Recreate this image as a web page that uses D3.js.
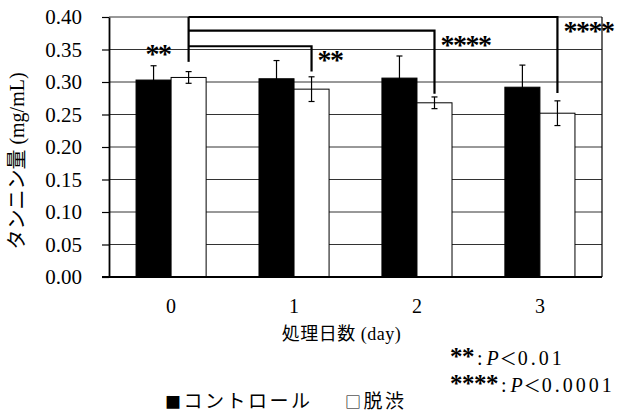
<!DOCTYPE html>
<html lang="ja">
  <head>
    <script src="https://cdnjs.cloudflare.com/ajax/libs/d3/7.8.5/d3.min.js"></script>
    <meta charset="utf-8"/>
    <title>タンニン量</title>
  </head>
  <body style="margin:0;background:#fff">
    <svg id="chart"></svg>
  </body>

  <style>
    text { font-family: "Liberation Serif", "Noto Sans CJK JP", serif; fill: #000; }
  </style>

  <script>
    // データ
    const days = ["0", "1", "2", "3"];
    const seriesNames = ["コントロール", "脱渋"];
    const control = [0.303, 0.305, 0.306, 0.292];
    const controlErr = [0.022, 0.028, 0.034, 0.034];
    const shibu = [0.307, 0.289, 0.268, 0.252];
    const shibuErr = [0.009, 0.019, 0.009, 0.019];
    const yTicks = [0, 0.05, 0.10, 0.15, 0.20, 0.25, 0.30, 0.35, 0.40];

    // 有意差のブラケット (day 0 の脱渋から)
    const bracketStart = 0.331;
    const bracketTo = ["1", "2", "3"];
    const bracketLevel = [0.355, 0.379, 0.40];
    const bracketEnd = [0.316, 0.282, 0.283];
    const bracketLabel = ["**", "****", "****"];

    // 有意水準の注記
    const sigStars = ["**", "****"];
    const sigP = ["0.01", "0.0001"];

    const margin = {top: 17, right: 21, bottom: 136, left: 109},
        width = 623 - margin.left - margin.right,
        height = 413 - margin.top - margin.bottom;

    const svg = d3.select("#chart")
        .attr("width", 623)
        .attr("height", 413)
      .append("g")
        .attr("transform", "translate(" + margin.left + "," + margin.top + ")");

    const x0 = d3.scaleBand()
      .domain(days)
      .range([0, width])
      .paddingInner(0.43)
      .paddingOuter(0.22);

    const x1 = d3.scaleBand()
      .domain(seriesNames)
      .range([0, x0.bandwidth()]);

    const y = d3.scaleLinear()
      .domain([0, 0.40])
      .range([height, 0]);

    // グリッド
    svg.append("g")
      .selectAll("line")
      .data(yTicks)
      .join("line")
        .attr("x1", 0)
        .attr("x2", width)
        .attr("y1", d => y(d))
        .attr("y2", d => y(d))
        .style("stroke", "#333")
        .style("stroke-width", 1);

    svg.append("line")
      .attr("x1", width).attr("x2", width)
      .attr("y1", 0).attr("y2", height)
      .style("stroke", "#000")
      .style("stroke-width", 1.2);

    const rows = days.map((d, i) => ({
      day: d,
      values: [
        {key: seriesNames[0], v: control[i], e: controlErr[i]},
        {key: seriesNames[1], v: shibu[i], e: shibuErr[i]}
      ]
    }));

    const groups = svg.selectAll(".grp")
      .data(rows)
      .join("g")
        .attr("class", "grp")
        .attr("transform", d => "translate(" + x0(d.day) + ",0)");

    groups.selectAll("rect")
      .data(d => d.values)
      .join("rect")
        .attr("x", d => x1(d.key))
        .attr("y", d => y(d.v))
        .attr("width", x1.bandwidth())
        .attr("height", d => height - y(d.v))
        .style("fill", (d, i) => i === 0 ? "#000" : "#fff")
        .style("stroke", "#000")
        .style("stroke-width", 1);

    // エラーバー
    const cap = 3;
    const mid = d => x1(d.key) + x1.bandwidth() / 2;
    const eb = groups.selectAll(".eb")
      .data(d => d.values)
      .join("g")
        .attr("class", "eb");
    eb.append("line")
      .attr("x1", mid).attr("x2", mid)
      .attr("y1", d => y(d.v - d.e))
      .attr("y2", d => y(d.v + d.e));
    eb.append("line")
      .attr("x1", d => mid(d) - cap).attr("x2", d => mid(d) + cap)
      .attr("y1", d => y(d.v + d.e))
      .attr("y2", d => y(d.v + d.e));
    eb.append("line")
      .attr("x1", d => mid(d) - cap).attr("x2", d => mid(d) + cap)
      .attr("y1", d => y(d.v - d.e))
      .attr("y2", d => y(d.v - d.e));
    eb.selectAll("line")
      .style("stroke", "#000")
      .style("stroke-width", 1.2);

    // 軸
    const yAxis = svg.append("g")
      .call(d3.axisLeft(y).tickValues(yTicks).tickFormat(d3.format(".2f"))
        .tickSize(7).tickSizeOuter(0).tickPadding(20));
    yAxis.select(".domain").style("stroke-width", 1.8);
    yAxis.selectAll(".tick line").style("stroke-width", 1.2);
    yAxis.selectAll("text")
      .style("font-size", "21px")
      .style("font-family", "Liberation Serif");

    const xAxis = svg.append("g")
      .attr("transform", "translate(0," + height + ")")
      .call(d3.axisBottom(x0).tickSize(0).tickSizeOuter(0).tickPadding(22));
    xAxis.select(".domain")
      .attr("d", "M-7,0H" + width)
      .style("stroke-width", 1.8);
    xAxis.selectAll("text")
      .style("font-size", "20px")
      .style("font-family", "Liberation Serif");

    // ブラケット
    const cx = (day) => x0(day) + x1(seriesNames[1]) + x1.bandwidth() / 2;
    const xs = cx(days[0]);
    svg.append("line")
      .attr("x1", xs).attr("x2", xs)
      .attr("y1", y(bracketStart)).attr("y2", y(d3.max(bracketLevel)))
      .style("stroke", "#000").style("stroke-width", 2.2);

    const starStyle = sel => sel
      .style("font-size", "28px")
      .style("font-weight", "bold")
      .style("letter-spacing", "-1.5px");

    bracketTo.forEach((d, i) => {
      const xe = cx(d);
      svg.append("path")
        .attr("d", "M" + xs + "," + y(bracketLevel[i]) + "H" + xe + "V" + y(bracketEnd[i]))
        .style("fill", "none")
        .style("stroke", "#000")
        .style("stroke-width", 2.2);
      svg.append("text")
        .attr("x", xe + 6)
        .attr("y", y(bracketLevel[i]) + 23)
        .call(starStyle)
        .text(bracketLabel[i]);
    });

    svg.append("text")
      .attr("x", xs - 18)
      .attr("y", y(bracketLevel[0]) + 17)
      .attr("text-anchor", "end")
      .call(starStyle)
      .text(bracketLabel[0]);

    // 軸タイトル
    svg.append("text")
      .attr("transform", "translate(" + (-margin.left + 24) + "," + (height / 2 + 14) + ") rotate(-90)")
      .attr("text-anchor", "middle")
      .style("font-size", "20px")
      .text("タンニン量 (mg/mL)");

    svg.append("text")
      .attr("x", width / 2 - 14)
      .attr("y", height + 63)
      .attr("text-anchor", "middle")
      .style("font-size", "18px")
      .style("letter-spacing", "0.5px")
      .text("処理日数 (day)");

    // 有意水準
    sigStars.forEach((s, i) => {
      const t = svg.append("text")
        .attr("x", 341)
        .attr("y", height + 88 + i * 27)
        .style("font-size", "20px");
      t.append("tspan")
        .style("font-size", "25px")
        .style("font-weight", "bold")
        .style("letter-spacing", "-0.5px")
        .text(s);
      t.append("tspan").attr("dx", 3).text(":");
      t.append("tspan").attr("dx", 4).style("font-style", "italic").text("P");
      t.append("tspan").attr("dx", 1).style("font-family", "Noto Sans CJK JP").style("font-size", "17px").text("＜");
      t.append("tspan").attr("dx", 1).style("letter-spacing", "3px").text(sigP[i]);
    });

    // 凡例
    const legendX = [56, 236];
    const legendMark = ["■", "□"];
    seriesNames.forEach((name, i) => {
      const t = svg.append("text")
        .attr("x", legendX[i])
        .attr("y", height + 131)
        .style("font-size", "19px")
        .style("letter-spacing", "2.5px");
      t.append("tspan")
        .style("font-family", "Noto Sans CJK JP")
        .style("font-size", "16px")
        .text(legendMark[i]);
      t.append("tspan").text(name);
    });
  </script>
</html>
